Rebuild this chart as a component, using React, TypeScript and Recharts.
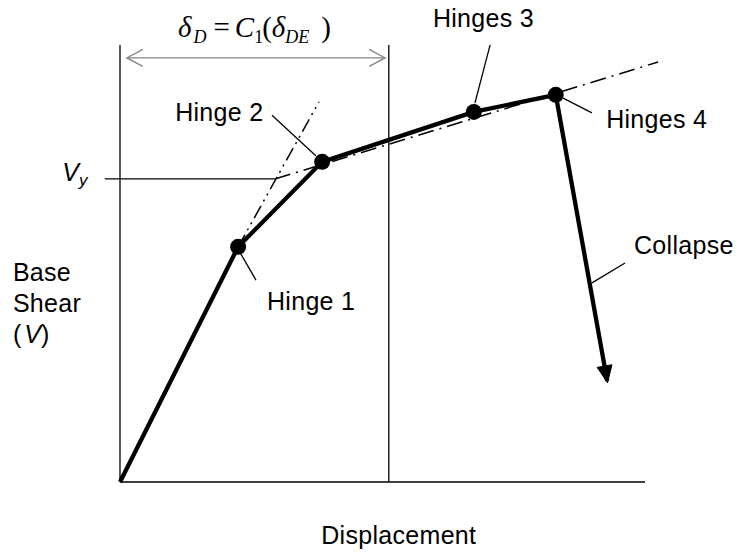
import React from 'react';
import { ComposedChart, Line, XAxis, YAxis, ReferenceLine, ReferenceDot } from 'recharts';

// Capacity (pushover) curve, displacement vs base shear (arbitrary units)
const curveDisp = [0, 22.5, 38.5, 67.4, 83.0, 92.8];
const curveShear = [0, 50.9, 69.3, 80.1, 83.8, 21.9];
const hingeIndex = [1, 2, 3, 4];

// Idealized bilinear lines
const elasticDisp = [22.5, 37.9];
const elasticShear = [50.9, 82.3];
const postYieldDisp = [29.5, 102.5];
const postYieldShear = [65.6, 90.9];

const yieldShear = 65.6;
const yieldLineDisp = [-2.9, 29.5];
const targetDisp = 51.2;
const guideTop = 94.6;
const axisEnd = 100;
const spanArrow = { y: 91.8, from: 1.3, to: 50.5 };

// Leader lines from labels to hinges
const leaders = [
  { x1: 22.9, y1: 49.6, x2: 25.9, y2: 43.7 },
  { x1: 28.95, y1: 79.4, x2: 37.3, y2: 70.6 },
  { x1: 70.5, y1: 94.6, x2: 67.6, y2: 82.0 },
  { x1: 84.4, y1: 83.1, x2: 89.9, y2: 79.9 },
  { x1: 96.2, y1: 47.4, x2: 89.9, y2: 43.1 },
];

const labels = [
  { text: 'Hinge 1', x: 28.0, y: 37.2, anchor: 'start' },
  { text: 'Hinge 2', x: 10.5, y: 78.1, anchor: 'start' },
  { text: 'Hinges 3', x: 59.6, y: 98.5, anchor: 'start' },
  { text: 'Hinges 4', x: 92.6, y: 76.6, anchor: 'start' },
  { text: 'Collapse', x: 97.9, y: 49.4, anchor: 'start' },
  { text: 'Base', x: -20.4, y: 43.5, anchor: 'start' },
  { text: 'Shear', x: -20.4, y: 36.8, anchor: 'start' },
  { text: 'Displacement', x: 53.1, y: -13.4, anchor: 'middle' },
];
const vLabel = { x: -20.4, y: 30.1 };
const vyLabel = { x: -11.0, y: 65.1 };
const formulaPos = { x: 11.05, y: 96.3 };

const curveData = curveDisp.map((x, i) => ({ x, y: curveShear[i] }));
const elasticData = elasticDisp.map((x, i) => ({ x, y: elasticShear[i] }));
const postYieldData = postYieldDisp.map((x, i) => ({ x, y: postYieldShear[i] }));

const SANS = '"Liberation Sans", Arial, Helvetica, sans-serif';
const SERIF = '"Liberation Serif", "Times New Roman", serif';

const HingeDot = (p: any) => {
  if (hingeIndex.includes(p.index)) {
    return <circle key={`h${p.index}`} cx={p.cx} cy={p.cy} r={8} fill="#000" />;
  }
  return <g key={`n${p.index}`} />;
};

const DoubleArrow = (p: any) => {
  const { x1, y1, x2, y2 } = p;
  const c = '#858585';
  return (
    <g>
      <line x1={x1} y1={y1} x2={x2} y2={y2} stroke={c} strokeWidth={1.3} />
      <polyline points={`${x1 + 16},${y1 - 8.5} ${x1},${y1} ${x1 + 16},${y1 + 8.5}`} fill="none" stroke={c} strokeWidth={1.3} />
      <polyline points={`${x2 - 16},${y2 - 8.5} ${x2},${y2} ${x2 - 16},${y2 + 8.5}`} fill="none" stroke={c} strokeWidth={1.3} />
    </g>
  );
};

const ArrowHead = (p: any) => {
  const { x1, y1, x2, y2 } = p;
  const dx = x2 - x1;
  const dy = y2 - y1;
  const len = Math.sqrt(dx * dx + dy * dy) || 1;
  const ux = dx / len;
  const uy = dy / len;
  const tx = x2 + ux * 2;
  const ty = y2 + uy * 2;
  const bx = tx - ux * 17;
  const by = ty - uy * 17;
  const w = 7.5;
  return (
    <polygon
      points={`${tx},${ty} ${bx - uy * w},${by + ux * w} ${bx + uy * w},${by - ux * w}`}
      fill="#000"
      stroke="#000"
      strokeWidth={1}
    />
  );
};

const textShape = (text: string, anchor: string) => (p: any) => (
  <text x={p.cx} y={p.cy} textAnchor={anchor} fontFamily={SANS} fontSize={25} letterSpacing={0.3} fill="#000">
    {text}
  </text>
);

const VShape = (p: any) => (
  <text x={p.cx} y={p.cy} fontFamily={SANS} fontSize={25} fill="#000">
    <tspan>(</tspan>
    <tspan dx={3} fontStyle="italic">V</tspan>
    <tspan>)</tspan>
  </text>
);

const VyShape = (p: any) => (
  <text x={p.cx} y={p.cy} fontFamily={SANS} fontSize={25} fill="#000">
    <tspan fontStyle="italic">V</tspan>
    <tspan fontStyle="italic" fontSize={17} dy={5}>y</tspan>
  </text>
);

const FormulaShape = (p: any) => (
  <text x={p.cx} y={p.cy} fontFamily={SERIF} fontSize={29} fill="#000">
    <tspan fontStyle="italic">δ</tspan>
    <tspan fontStyle="italic" fontSize={18} dy={6} dx={2}>D</tspan>
    <tspan dy={-6} dx={7}>=</tspan>
    <tspan fontStyle="italic" dx={5}>C</tspan>
    <tspan fontSize={18} dy={6}>1</tspan>
    <tspan dy={-6} dx={-1}>(</tspan>
    <tspan fontStyle="italic">δ</tspan>
    <tspan fontStyle="italic" fontSize={18} dy={6}>DE</tspan>
    <tspan dy={-6} dx={12}>)</tspan>
  </text>
);

export default function App() {
  return (
    <div style={{ position: 'absolute', left: 0, top: 0, width: 740, height: 552 }}>
      <ComposedChart
        width={740}
        height={552}
        margin={{ top: 20, right: 68.75, bottom: 70, left: 120 }}
      >
        <XAxis type="number" dataKey="x" domain={[0, 105]} hide />
        <YAxis type="number" dataKey="y" domain={[0, 100]} hide />

        {/* axes and guides */}
        <ReferenceLine segment={[{ x: 0, y: 0 }, { x: axisEnd, y: 0 }]} stroke="#000" strokeWidth={1.3} ifOverflow="visible" />
        <ReferenceLine segment={[{ x: 0, y: 0 }, { x: 0, y: guideTop }]} stroke="#000" strokeWidth={1.3} ifOverflow="visible" />
        <ReferenceLine segment={[{ x: targetDisp, y: 0 }, { x: targetDisp, y: guideTop }]} stroke="#000" strokeWidth={1.3} ifOverflow="visible" />
        <ReferenceLine segment={[{ x: yieldLineDisp[0], y: yieldShear }, { x: yieldLineDisp[1], y: yieldShear }]} stroke="#000" strokeWidth={1.3} ifOverflow="visible" />
        <ReferenceLine
          segment={[{ x: spanArrow.from, y: spanArrow.y }, { x: spanArrow.to, y: spanArrow.y }]}
          ifOverflow="visible"
          shape={DoubleArrow}
        />
        {leaders.map((l, i) => (
          <ReferenceLine
            key={`ld${i}`}
            segment={[{ x: l.x1, y: l.y1 }, { x: l.x2, y: l.y2 }]}
            stroke="#000"
            strokeWidth={1.3}
            ifOverflow="visible"
          />
        ))}

        <Line
          data={elasticData}
          dataKey="y"
          stroke="#000"
          strokeWidth={1.5}
          strokeDasharray="14 5 2 5 2 5"
          dot={false}
          activeDot={false}
          isAnimationActive={false}
        />
        <Line
          data={postYieldData}
          dataKey="y"
          stroke="#000"
          strokeWidth={1.5}
          strokeDasharray="16 6 2 6"
          dot={false}
          activeDot={false}
          isAnimationActive={false}
        />
        <Line
          data={curveData}
          dataKey="y"
          stroke="#000"
          strokeWidth={4.3}
          type="linear"
          dot={HingeDot}
          activeDot={false}
          isAnimationActive={false}
        />
        <ReferenceLine
          segment={[
            { x: curveDisp[4], y: curveShear[4] },
            { x: curveDisp[5], y: curveShear[5] },
          ]}
          ifOverflow="visible"
          shape={ArrowHead}
        />

        {labels.map((l, i) => (
          <ReferenceDot key={`lb${i}`} x={l.x} y={l.y} r={1} ifOverflow="visible" shape={textShape(l.text, l.anchor)} />
        ))}
        <ReferenceDot x={vLabel.x} y={vLabel.y} r={1} ifOverflow="visible" shape={VShape} />
        <ReferenceDot x={vyLabel.x} y={vyLabel.y} r={1} ifOverflow="visible" shape={VyShape} />
        <ReferenceDot x={formulaPos.x} y={formulaPos.y} r={1} ifOverflow="visible" shape={FormulaShape} />
      </ComposedChart>
    </div>
  );
}
